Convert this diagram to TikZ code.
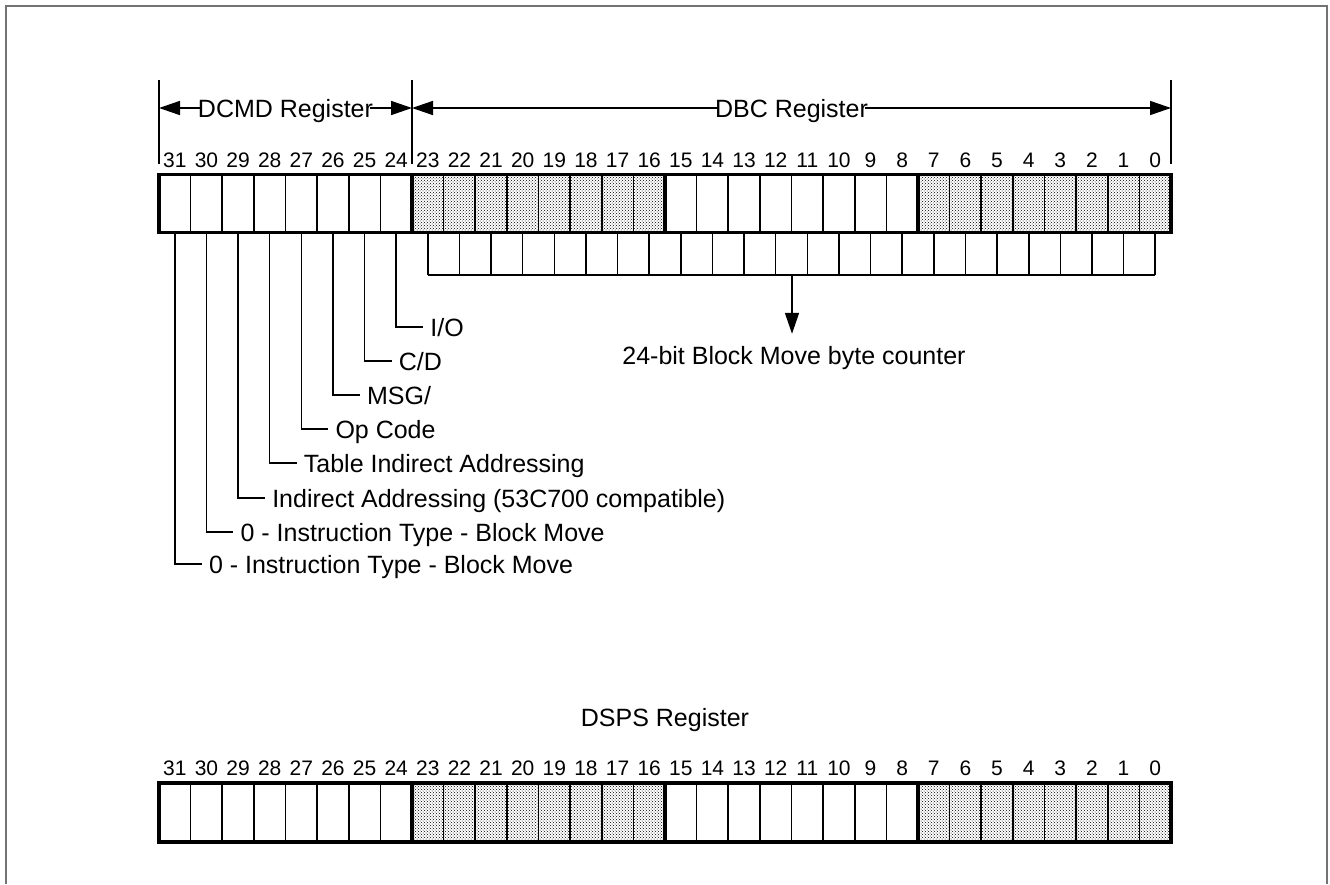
\documentclass[tikz,border=0pt]{standalone}
\usepackage{fontspec}
\setmainfont{Liberation Sans}
\usetikzlibrary{arrows.meta,patterns}
\begin{document}
\begin{tikzpicture}[x=1pt,y=-1pt,
  lbl/.style={font=\fontsize{25}{30}\selectfont, inner sep=0pt, text height=18pt, text depth=0pt},
  bitnum/.style={font=\fontsize{21}{25}\selectfont, inner sep=0pt, text height=15pt, text depth=0pt},
  cellline/.style={line width=1.6pt},
  bytebox/.style={line width=3.5pt, line join=miter},
  conn/.style={line width=1.6pt},
  tip/.tip={Triangle[length=21pt,width=14pt]},
  shade/.style={pattern=crosshatch dots, pattern color=black},
  frame/.style={line width=1.5pt, draw=black!55}]
\useasboundingbox (0,0) rectangle (1330,884);
\draw[frame] (6,884) -- (6,6) -- (1327,6) -- (1327,884);
\def\cw{31.625}
% ---------- registers ----------
\foreach \pre/\yt/\yb/\yn in {T/174.5/232.5/160, S/783/842/768} {
  \fill[shade] (412,\yt) rectangle (665,\yb);
  \fill[shade] (918,\yt) rectangle (1171,\yb);
  \foreach \i in {0,...,31} {
    \pgfmathsetmacro\xl{159+\i*\cw}
    \pgfmathsetmacro\xc{159+(\i+0.5)*\cw}
    \pgfmathtruncatemacro\bit{31-\i}
    \draw[cellline] (\xl,\yt) -- (\xl,\yb);
    \node[bitnum] (\pre n\bit) at (\xc,\yn) {\bit};
    \coordinate (\pre b\bit) at (\xc,\yb);
  }
  \draw[bytebox] (159,\yt) rectangle (412,\yb);
  \draw[bytebox] (412,\yt) rectangle (665,\yb);
  \draw[bytebox] (665,\yt) rectangle (918,\yb);
  \draw[bytebox] (918,\yt) rectangle (1171,\yb);
}
% ---------- header ----------
\coordinate (v0t) at (159,80);  \coordinate (v0b) at (159,164);
\coordinate (v1t) at (412,80);  \coordinate (v1b) at (412,164);
\coordinate (v2t) at (1171,80); \coordinate (v2b) at (1171,164);
\draw[conn] (v0t) -- (v0b);
\draw[conn] (v1t) -- (v1b);
\draw[conn] (v2t) -- (v2b);
\coordinate (a0) at (159,108);
\coordinate (a1) at (412,108);
\coordinate (a2) at (1171,108);
\draw[conn,{tip}-{tip}] (a0) -- (a1);
\draw[conn,{tip}-{tip}] (a1) -- (a2);
\node[lbl, fill=white, inner xsep=-3pt] (dcmd) at (285.5,108) {DCMD Register};
\node[lbl, fill=white, inner xsep=-3pt] (dbc) at (791.5,108) {DBC Register};
% ---------- byte counter comb ----------
\foreach \b in {0,...,23} {
  \pgfmathsetmacro\xc{159+(31-\b+0.5)*\cw}
  \coordinate (c\b) at (\xc,275);
  \draw[conn] (Tb\b) -- (c\b);
}
\draw[conn] (c23) -- (c0);
\coordinate (cmid) at (792,275);
\node[lbl] (cnt) at (794,355) {24-bit Block Move byte counter};
\draw[conn,-{tip}] (cmid) -- (cmid |- cnt.north) [shorten >=12pt];
% ---------- DCMD bit leaders ----------
\foreach \b/\y/\t in {24/327/{I/O}, 25/361/{C/D}, 26/395/{MSG/}, 27/429/{Op Code},
    28/463/{Table Indirect Addressing}, 29/498/{Indirect Addressing (53C700 compatible)},
    30/532/{0 - Instruction Type - Block Move}, 31/564/{0 - Instruction Type - Block Move}} {
  \pgfmathsetmacro\xc{159+(31-\b+0.5)*\cw+27}
  \node[lbl, anchor=west, inner xsep=7pt] (l\b) at (\xc,\y) {\t};
  \draw[conn] (Tb\b) |- (l\b.west);
}
% ---------- DSPS ----------
\node[lbl] (dsps) at (665,717) {DSPS Register};
\end{tikzpicture}
\end{document}
